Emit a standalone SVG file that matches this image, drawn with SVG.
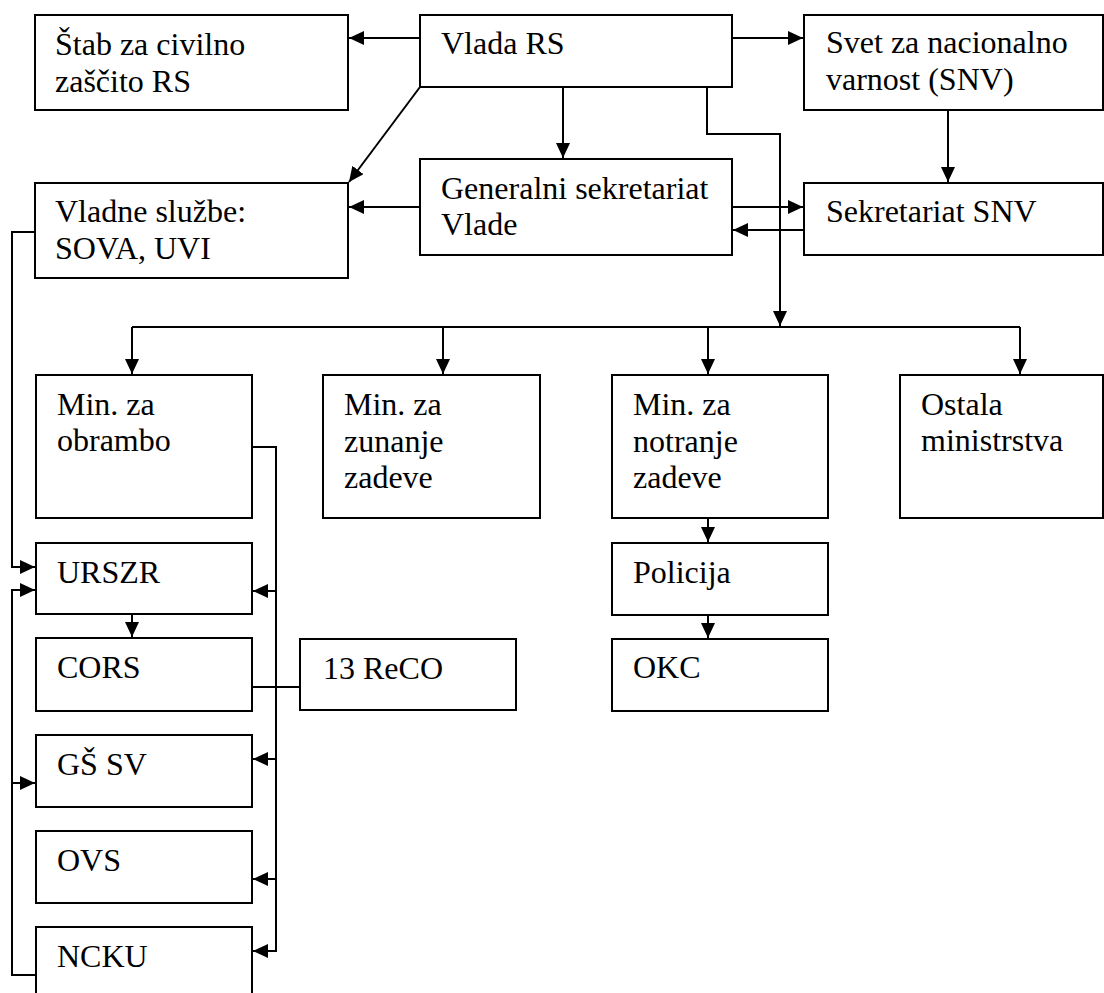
<svg xmlns="http://www.w3.org/2000/svg" width="1104" height="993" viewBox="0 0 1104 993">
<style>
.box{fill:#fff;stroke:#000;stroke-width:2}
.lbl{font-family:"Liberation Serif","Times New Roman",serif;font-size:32px;fill:#000}
.c{fill:none;stroke:#000;stroke-width:2}
.a{marker-end:url(#arr)}
</style>
<defs>
<marker id="arr" markerUnits="userSpaceOnUse" markerWidth="15" markerHeight="14" refX="15" refY="7" orient="auto">
<path d="M0,0 L15,7 L0,14 z" fill="#000"/>
</marker>
</defs>
<rect width="1104" height="993" fill="#fff"/>
<g id="connectors">
<path class="c a" d="M420,38 H349"/>
<path class="c a" d="M732,38 H803"/>
<path class="c a" d="M420,87 L349,182"/>
<path class="c a" d="M563,87 V158"/>
<path class="c a" d="M707,87 V134 H780 V326"/>
<path class="c a" d="M948,110 V182"/>
<path class="c a" d="M732,207 H803"/>
<path class="c a" d="M804,230 H733"/>
<path class="c a" d="M420,207 H349"/>
<path class="c" d="M132,327 H1020"/>
<path class="c a" d="M132,327 V374"/>
<path class="c a" d="M443,327 V374"/>
<path class="c a" d="M708,327 V374"/>
<path class="c a" d="M1020,327 V374"/>
<path class="c a" d="M35,232 H12 V567 H35"/>
<path class="c a" d="M36,975 H12 V590 H35"/>
<path class="c a" d="M12,783 H35"/>
<path class="c a" d="M252,447 H276 V951 H253"/>
<path class="c a" d="M276,591 H253"/>
<path class="c a" d="M276,759 H253"/>
<path class="c a" d="M276,879 H253"/>
<path class="c a" d="M132,614 V637"/>
<path class="c" d="M252,687 H300"/>
<path class="c a" d="M708,518 V542"/>
<path class="c a" d="M708,615 V638"/>
</g>
<g id="stab"><rect class="box" x="35" y="15" width="313" height="95"/><text class="lbl" x="55" y="55">Štab za civilno</text><text class="lbl" x="55" y="92">zaščito RS</text></g>
<g id="vlada"><rect class="box" x="420" y="15" width="312" height="72"/><text class="lbl" x="441" y="54">Vlada RS</text></g>
<g id="svet"><rect class="box" x="804" y="15" width="299" height="95"/><text class="lbl" x="826" y="53">Svet za nacionalno</text><text class="lbl" x="826" y="90">varnost (SNV)</text></g>
<g id="vladne"><rect class="box" x="35" y="183" width="313" height="95"/><text class="lbl" x="55" y="222">Vladne službe:</text><text class="lbl" x="55" y="259">SOVA, UVI</text></g>
<g id="gensek"><rect class="box" x="420" y="159" width="312" height="96"/><text class="lbl" x="441" y="199">Generalni sekretariat</text><text class="lbl" x="441" y="235">Vlade</text></g>
<g id="seksnv"><rect class="box" x="804" y="183" width="299" height="72"/><text class="lbl" x="826" y="222">Sekretariat SNV</text></g>
<g id="minobr"><rect class="box" x="36" y="375" width="216" height="143"/><text class="lbl" x="57" y="415">Min. za</text><text class="lbl" x="57" y="451">obrambo</text></g>
<g id="minzun"><rect class="box" x="323" y="375" width="217" height="143"/><text class="lbl" x="344" y="415">Min. za</text><text class="lbl" x="344" y="452">zunanje</text><text class="lbl" x="344" y="488">zadeve</text></g>
<g id="minnot"><rect class="box" x="612" y="375" width="216" height="143"/><text class="lbl" x="633" y="415">Min. za</text><text class="lbl" x="633" y="452">notranje</text><text class="lbl" x="633" y="488">zadeve</text></g>
<g id="ostala"><rect class="box" x="900" y="375" width="203" height="143"/><text class="lbl" x="921" y="415">Ostala</text><text class="lbl" x="921" y="451">ministrstva</text></g>
<g id="urszr"><rect class="box" x="36" y="543" width="216" height="71"/><text class="lbl" x="57" y="583">URSZR</text></g>
<g id="cors"><rect class="box" x="36" y="638" width="216" height="73"/><text class="lbl" x="57" y="678">CORS</text></g>
<g id="reco"><rect class="box" x="300" y="639" width="216" height="71"/><text class="lbl" x="323" y="679">13 ReCO</text></g>
<g id="gssv"><rect class="box" x="36" y="735" width="216" height="72"/><text class="lbl" x="57" y="775">GŠ SV</text></g>
<g id="ovs"><rect class="box" x="36" y="831" width="216" height="72"/><text class="lbl" x="57" y="871">OVS</text></g>
<g id="ncku"><rect class="box" x="36" y="927" width="216" height="80"/><text class="lbl" x="57" y="967">NCKU</text></g>
<g id="policija"><rect class="box" x="612" y="543" width="216" height="72"/><text class="lbl" x="633" y="583">Policija</text></g>
<g id="okc"><rect class="box" x="612" y="639" width="216" height="72"/><text class="lbl" x="633" y="678">OKC</text></g>
</svg>
